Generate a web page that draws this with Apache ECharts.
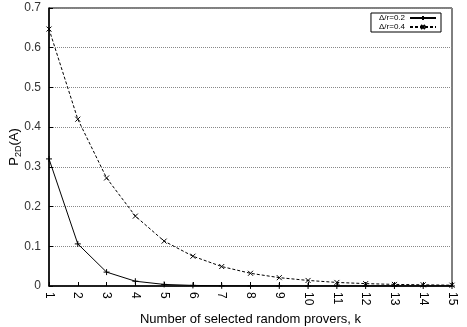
<!DOCTYPE html>
<html>
<head>
<meta charset="utf-8">
<script src="https://cdn.jsdelivr.net/npm/echarts@6/dist/echarts.min.js"></script>
<style>
  html, body { margin: 0; padding: 0; background: #fff; }
  #chart { width: 467px; height: 327px; }
</style>
</head>
<body>
<div id="chart"></div>
<script>
const kValues = ['1', '2', '3', '4', '5', '6', '7', '8', '9', '10', '11', '12', '13', '14', '15']
const ratio02 = [0.32, 0.106, 0.035, 0.012, 0.004, 0.0015, 0.0005, 0.0002, 0.0001, 0, 0, 0, 0, 0, 0]
const ratio04 = [0.647, 0.42, 0.272, 0.176, 0.113, 0.075, 0.049, 0.032, 0.021, 0.014, 0.009, 0.006, 0.004, 0.003, 0.002]
const yTicks = [0, 0.1, 0.2, 0.3, 0.4, 0.5, 0.6, 0.7]

const font = 'Liberation Sans, Arial, sans-serif'
const plusSymbol = 'path://M0,5L10,5M5,0L5,10'
const crossSymbol = 'path://M0,0L10,10M10,0L0,10'

const chart = echarts.init(document.getElementById('chart'))

const option = {
  animation: false,
  grid: {
    left: 49,
    right: 15,
    top: 8,
    bottom: 41,
    outerBoundsMode: 'none',
    containLabel: false,
    show: true,
    borderColor: '#000',
    borderWidth: 1
  },
  legend: {
    right: 26,
    top: 13,
    orient: 'vertical',
    align: 'right',
    itemGap: 1,
    itemWidth: 26,
    itemHeight: 5,
    padding: [1, 4, 1, 8],
    borderColor: '#000',
    borderWidth: 1,
    textStyle: { fontFamily: font, fontSize: 8, color: '#000' },
    data: ['Δ/r=0.2', 'Δ/r=0.4']
  },
  xAxis: {
    type: 'category',
    boundaryGap: false,
    data: kValues,
    name: 'Number of selected random provers, k',
    nameLocation: 'middle',
    nameGap: 27,
    nameMoveOverlap: false,
    nameTextStyle: { fontFamily: font, fontSize: 13, color: '#000' },
    axisLine: { lineStyle: { color: '#000', width: 1.5 } },
    axisTick: { inside: true, length: 4, alignWithLabel: true, lineStyle: { color: '#000' } },
    axisLabel: { rotate: -90, fontFamily: font, fontSize: 12, color: '#000', margin: 6 },
    splitLine: { show: false }
  },
  yAxis: {
    type: 'value',
    min: yTicks[0],
    max: yTicks[yTicks.length - 1],
    interval: 0.1,
    name: '{a|P}{b|2D}{a|(A)}',
    nameLocation: 'middle',
    nameRotate: 90,
    nameGap: 26,
    nameMoveOverlap: false,
    nameTextStyle: {
      rich: {
        a: { fontFamily: font, fontSize: 13, color: '#000' },
        b: { fontFamily: font, fontSize: 9, color: '#000', padding: [8, 0, 0, 0] }
      }
    },
    axisLine: { show: true, lineStyle: { color: '#000', width: 1.5 } },
    axisTick: { show: true, inside: true, length: 4, lineStyle: { color: '#000' } },
    axisLabel: { fontFamily: font, fontSize: 12, color: '#333', margin: 8 },
    splitLine: { show: true, lineStyle: { color: '#888', type: [1, 1], width: 1 } }
  },
  series: [
    {
      name: 'Δ/r=0.2',
      type: 'line',
      data: ratio02,
      symbol: plusSymbol,
      symbolSize: 6,
      lineStyle: { color: '#000', width: 1 },
      itemStyle: { color: '#000', borderColor: '#000', borderWidth: 1 }
    },
    {
      name: 'Δ/r=0.4',
      type: 'line',
      data: ratio04,
      symbol: crossSymbol,
      symbolSize: 5,
      lineStyle: { color: '#000', width: 1, type: [3, 2] },
      itemStyle: { color: '#000', borderColor: '#000', borderWidth: 1 }
    }
  ]
}

chart.setOption(option)
</script>
</body>
</html>
